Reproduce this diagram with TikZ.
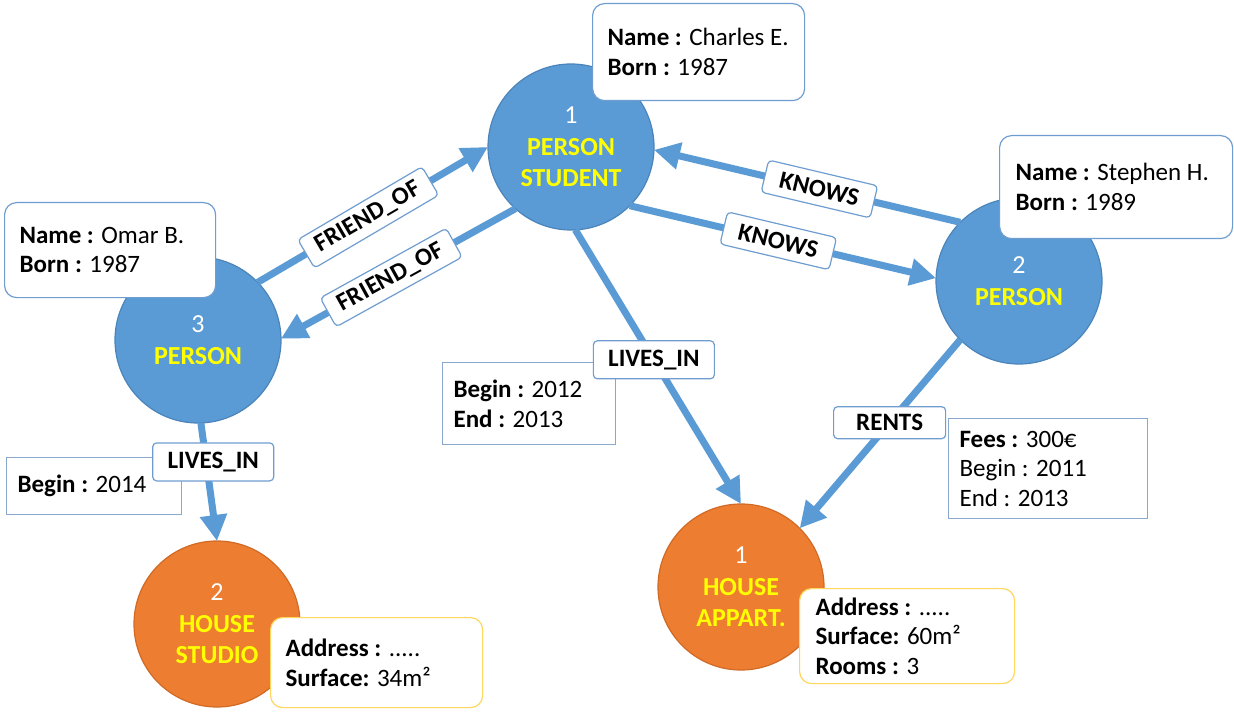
\documentclass[tikz,border=0pt]{standalone}
\usepackage{fontspec}
\setmainfont{Carlito}
\usetikzlibrary{arrows.meta}
\definecolor{nblue}{HTML}{5B9BD5}
\definecolor{nblueb}{HTML}{4A84BA}
\definecolor{norange}{HTML}{ED7D31}
\definecolor{norangeb}{HTML}{D06A26}
\definecolor{ylw}{HTML}{FFFF00}
\definecolor{boxb}{HTML}{6F9DD0}
\definecolor{pboxb}{HTML}{8AA8CC}
\definecolor{hboxb}{HTML}{FFD75E}
\begin{document}
\begin{tikzpicture}[x=1pt,y=-1pt,
  pnode/.style={circle, fill=nblue, draw=nblueb, line width=1.2pt, minimum size=166pt, inner sep=0pt, outer sep=0pt, align=center, font=\fontsize{26}{31.5}\selectfont},
  hnode/.style={pnode, fill=norange, draw=norangeb},
  propbox/.style={draw=boxb, fill=white, line width=1.2pt, anchor=north west, align=left, inner xsep=15pt, inner ysep=0pt, font=\fontsize{25}{29.5}\selectfont, text=black, execute at begin node={\spaceskip=0pt\xspaceskip=0pt\relax}},
  rprop/.style={propbox, rounded corners=12pt},
  eprop/.style={propbox, draw=pboxb, inner xsep=11pt},
  hprop/.style={rprop, draw=hboxb},
  elabel/.style={draw=boxb, fill=white, rounded corners=4pt, line width=1.2pt, font=\fontsize{25}{30}\selectfont\bfseries, inner sep=0pt, minimum height=33pt, text=black},
  edge/.style={draw=nblue, line width=7pt, -{Triangle[length=26pt,width=26pt]}}
]
\fill[white] (0,0) rectangle (1234,714);
\useasboundingbox (0,0) rectangle (1234,714);

% nodes
\node[pnode] (p1) at (571,147) {\textcolor{white}{1}\\\textcolor{ylw}{\bfseries PERSON}\\\textcolor{ylw}{\bfseries STUDENT}};
\node[pnode] (p2) at (1019,281) {\textcolor{white}{2}\\\textcolor{ylw}{\bfseries PERSON}};
\node[pnode] (p3) at (198,340) {\textcolor{white}{3}\\\textcolor{ylw}{\bfseries PERSON}};
\node[hnode] (h1) at (741,587) {\textcolor{white}{1}\\\textcolor{ylw}{\bfseries HOUSE}\\\textcolor{ylw}{\bfseries APPART.}};
\node[hnode] (h2) at (217,624) {\textcolor{white}{2}\\\textcolor{ylw}{\bfseries HOUSE}\\\textcolor{ylw}{\bfseries STUDIO}};

% node properties
\node[rprop, text width=182pt, minimum height=97pt] (bc) at (592,3) {\mbox{\textbf{Name :} Charles E.}\\\mbox{\textbf{Born :} 1987}};
\node[rprop, text width=201pt, minimum height=103pt, inner xsep=16pt] (bs) at (999,135) {\mbox{\textbf{Name :} Stephen H.}\\\mbox{\textbf{Born :} 1989}};
\node[rprop, text width=181pt, minimum height=95pt] (bo) at (4,202) {\mbox{\textbf{Name :} Omar B.}\\\mbox{\textbf{Born :} 1987}};
\node[hprop, text width=182pt, minimum height=90pt] (bh2) at (270,617) {\mbox{\textbf{Address :} .....}\\\mbox{\textbf{Surface:} 34m²}};
\node[hprop, text width=183pt, minimum height=95pt, inner xsep=16pt] (bh1) at (799,588) {\mbox{\textbf{Address :} .....}\\\mbox{\textbf{Surface:} 60m²}\\\mbox{\textbf{Rooms :} 3}};

% relationship properties
\node[eprop, text width=151pt, minimum height=82pt] (pl1) at (442,362) {\mbox{\textbf{Begin :} 2012}\\\mbox{\textbf{End :} 2013}};
\node[eprop, text width=153pt, minimum height=57pt] (pl2) at (6,457) {\mbox{\textbf{Begin :} 2014}};
\node[eprop, text width=177pt, minimum height=100pt] (pr) at (948,418) {\mbox{\textbf{Fees :} 300€}\\\mbox{Begin : 2011}\\\mbox{End : 2013}};

% relationships
\draw[edge] (p3.44) -- node[elabel, sloped, pos=.48, minimum width=144pt] (lf1) {FRIEND\_OF} (p1.180);
\draw[edge] (p1.228) -- node[elabel, sloped, pos=.53, minimum width=144pt] (lf2) {FRIEND\_OF} (p3.1);
\draw[edge] (p2.135) -- node[elabel, sloped, pos=.46, minimum width=112pt] (lk1) {KNOWS} (p1.358);
\draw[edge] (p1.315) -- node[elabel, sloped, pos=.485, minimum width=112pt] (lk2) {KNOWS} (p2.178);
\draw[edge] (p1.273) -- node[elabel, pos=.474, minimum width=121pt, minimum height=38pt] (ll1) {LIVES\_IN} (h1.90);
\draw[edge] (p3.272) -- node[elabel, pos=.33, xshift=7pt, minimum width=121pt, minimum height=38pt] (ll2) {LIVES\_IN} (h2.90);
\draw[edge] (p2.225) -- node[elabel, pos=.44, minimum width=112pt, minimum height=32pt] (lr) {RENTS} (h1.45);
\end{tikzpicture}
\end{document}
